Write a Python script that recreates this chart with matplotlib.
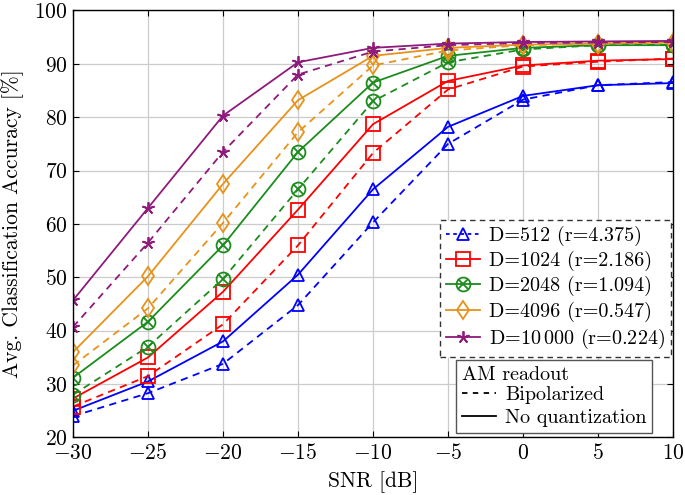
import numpy as np
import matplotlib.pyplot as plt
from matplotlib.lines import Line2D
from matplotlib.legend_handler import HandlerTuple

plt.rcParams['font.family'] = 'serif'
plt.rcParams['font.serif'] = ['cmr10']
plt.rcParams['mathtext.fontset'] = 'cm'
plt.rcParams['axes.formatter.use_mathtext'] = True

# SNR values
snr = [-30, -25, -20, -15, -10, -5, 0, 5, 10]

# accuracy, bipolarized (dashed) and no quantization (solid)
d512_bip = [24.0, 28.3, 33.8, 44.8, 60.3, 75.0, 83.3, 86.0, 86.6]
d512_full = [25.0, 30.5, 38.0, 50.5, 66.5, 78.2, 84.0, 86.0, 86.4]
d1024_bip = [25.8, 31.5, 41.2, 56.0, 73.3, 85.2, 89.5, 90.4, 91.0]
d1024_full = [27.3, 35.0, 47.3, 62.7, 78.7, 86.8, 89.7, 90.6, 90.9]
d2048_bip = [28.0, 37.0, 49.7, 66.5, 83.0, 90.3, 92.7, 93.5, 93.6]
d2048_full = [31.2, 41.7, 56.0, 73.5, 86.5, 91.5, 93.0, 93.5, 93.5]
d4096_bip = [33.5, 44.2, 60.2, 77.2, 89.7, 92.5, 93.5, 93.8, 94.0]
d4096_full = [36.0, 50.2, 67.5, 83.2, 91.5, 93.0, 93.6, 93.8, 94.0]
d10000_bip = [40.7, 56.5, 73.5, 88.0, 92.3, 93.5, 93.9, 94.0, 94.1]
d10000_full = [45.7, 63.0, 80.3, 90.3, 93.0, 93.8, 94.1, 94.2, 94.3]

labels = ['D=512 (r=4.375)', 'D=1024 (r=2.186)', 'D=2048 (r=1.094)',
          'D=4096 (r=0.547)', 'D=10$\\,$000 (r=0.224)']

fig = plt.figure(figsize=(6.85, 4.95), dpi=100)
ax = fig.add_axes([0.1066, 0.1162, 0.8759, 0.8626])

blue = '#0000ff'
red = '#ff0000'
green = '#1c8c1c'
orange = '#e8921a'
purple = '#8e1a7c'
lw = 1.3
dash = (0, (4, 3))
star = (5, 2, 0)
fs = 15.5
lfs = 14.5

handles = []

# D=512
ax.plot(snr, d512_bip, ls=dash, color=blue, lw=lw, marker='^', ms=9, mfc='none', mew=1.3)
ax.plot(snr, d512_full, '-', color=blue, lw=lw, marker='^', ms=9, mfc='none', mew=1.3)
handles.append(Line2D([], [], ls=(0, (2, 2)), color=blue, lw=lw, marker='^', ms=9, mfc='none', mew=1.3))

# D=1024
ax.plot(snr, d1024_bip, ls=dash, color=red, lw=lw, marker='s', ms=10, mfc='none', mew=1.3)
ax.plot(snr, d1024_full, '-', color=red, lw=lw, marker='s', ms=10, mfc='none', mew=1.3)
handles.append(Line2D([], [], ls='-', color=red, lw=lw, marker='s', ms=10, mfc='none', mew=1.3))

# D=2048 (circle with x)
for vals, ls in [(d2048_bip, dash), (d2048_full, '-')]:
    ax.plot(snr, vals, ls=ls, color=green, lw=lw, marker='o', ms=10, mfc='none', mew=1.3)
    ax.plot(snr, vals, color=green, marker='x', ms=6.5, mew=1.3, ls='none')
h_o = Line2D([], [], ls='-', color=green, lw=lw, marker='o', ms=10, mfc='none', mew=1.3)
h_x = Line2D([], [], ls='none', color=green, marker='x', ms=6.5, mew=1.3)
handles.append((h_o, h_x))

# D=4096
ax.plot(snr, d4096_bip, ls=dash, color=orange, lw=lw, marker='d', ms=9.5, mfc='none', mew=1.3)
ax.plot(snr, d4096_full, '-', color=orange, lw=lw, marker='d', ms=9.5, mfc='none', mew=1.3)
handles.append(Line2D([], [], ls='-', color=orange, lw=lw, marker='d', ms=9.5, mfc='none', mew=1.3))

# D=10000
ax.plot(snr, d10000_bip, ls=dash, color=purple, lw=lw, marker=star, ms=9, mew=1.3)
ax.plot(snr, d10000_full, '-', color=purple, lw=lw, marker=star, ms=9, mew=1.3)
handles.append(Line2D([], [], ls='-', color=purple, lw=lw, marker=star, ms=9, mew=1.3))

ax.set_xlim(-30, 10)
ax.set_ylim(20, 100)
ax.set_xticks(np.arange(-30, 11, 5))
ax.set_yticks(np.arange(20, 101, 10))
ax.tick_params(direction='in', labelsize=fs, length=4, top=True, right=True, pad=4)
ax.grid(color='#cccccc', lw=0.9)
ax.set_axisbelow(True)
for s in ax.spines.values():
    s.set_linewidth(1.0)

ax.set_xlabel('SNR [dB]', fontsize=fs, labelpad=6)
ax.set_ylabel('Avg. Classification Accuracy [%]', fontsize=fs, labelpad=7)

leg1 = ax.legend(handles, labels, loc='upper right', bbox_to_anchor=(0.9967, 0.5094),
                 fontsize=lfs, fancybox=False, framealpha=1, edgecolor='#333333',
                 handlelength=1.7, handletextpad=0.45, borderpad=0.3, labelspacing=0.25,
                 borderaxespad=0.0,
                 handler_map={tuple: HandlerTuple(ndivide=1, pad=0)})
leg1.get_frame().set_linestyle((0, (4, 3)))
leg1.get_frame().set_linewidth(1.0)
ax.add_artist(leg1)

h_bip = Line2D([], [], ls=(0, (3, 3)), color='black', lw=lw)
h_full = Line2D([], [], ls='-', color='black', lw=lw)
leg2 = ax.legend([h_bip, h_full], ['Bipolarized', 'No quantization'], title='AM readout',
                 loc='lower center', bbox_to_anchor=(0.8017, 0.0105), fontsize=lfs,
                 title_fontsize=lfs, fancybox=False, framealpha=1, edgecolor='#555555',
                 handlelength=1.7, handletextpad=0.45, borderpad=0.3, labelspacing=0.22,
                 borderaxespad=0.0, alignment='left')
leg2.get_frame().set_linewidth(1.0)
leg2._legend_box.sep = 2

fig.savefig('out.png', dpi=100)
